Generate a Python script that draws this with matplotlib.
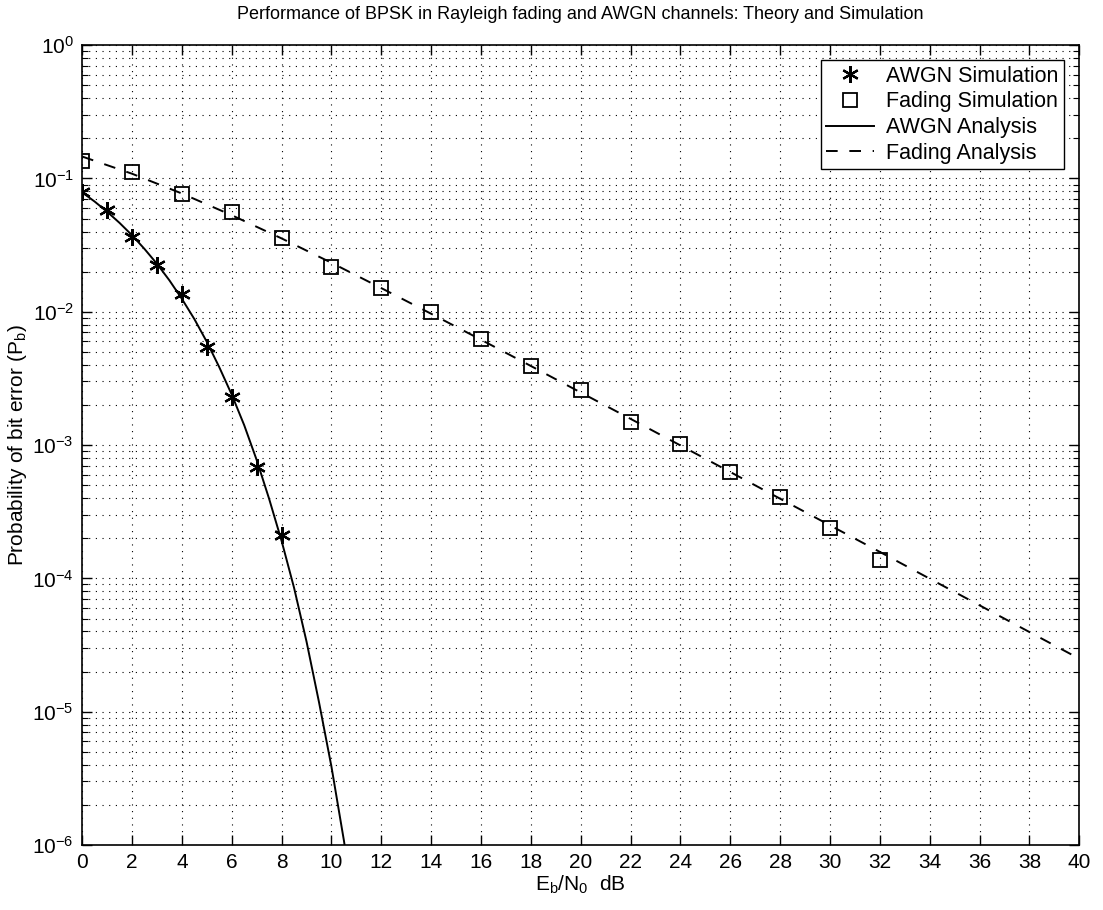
import matplotlib
matplotlib.use("Agg")
import matplotlib.pyplot as plt
from matplotlib.ticker import LogLocator, FixedLocator, NullFormatter

plt.rcParams['font.family'] = ['Liberation Sans', 'DejaVu Sans']
plt.rcParams['mathtext.fontset'] = 'custom'
plt.rcParams['mathtext.rm'] = 'Liberation Sans'

# AWGN simulation points (Eb/N0 dB, Pb)
awgn_sim_x = [0, 1, 2, 3, 4, 5, 6, 7, 8]
awgn_sim_y = [0.0785, 0.058, 0.0366, 0.0226, 0.0135, 0.0054, 0.0023, 0.00069, 0.00021]

# Fading simulation points
fade_sim_x = [0, 2, 4, 6, 8, 10, 12, 14, 16, 18, 20, 22, 24, 26, 28, 30, 32]
fade_sim_y = [0.136, 0.111, 0.077, 0.056, 0.036, 0.0215, 0.0152, 0.0099, 0.0062,
              0.0039, 0.0026, 0.0015, 0.00102, 0.00063, 0.00041, 0.00024, 0.000137]

# AWGN analysis curve
awgn_th_x = [0, 0.5, 1, 1.5, 2, 2.5, 3, 3.5, 4, 4.5, 5, 5.5, 6, 6.5, 7, 7.5,
             8, 8.5, 9, 9.5, 10, 10.5, 11]
awgn_th_y = [0.0786, 0.0671, 0.0563, 0.0464, 0.0375, 0.0296, 0.0229, 0.0172,
             0.0125, 0.00882, 0.00595, 0.00384, 0.00239, 0.00141, 0.000773,
             0.000395, 0.000191, 8.5e-5, 3.36e-5, 1.18e-5, 3.87e-6, 1.08e-6, 2.6e-7]

# Fading analysis curve (dashed line)
fade_th_x = [0, 2, 4, 6, 8, 10, 12, 14, 16, 18, 20, 22, 24, 26, 28, 30, 32,
             34, 36, 38, 40]
fade_th_y = [0.146, 0.1085, 0.0771, 0.053, 0.0355, 0.0233, 0.01505, 0.00966,
             0.00617, 0.00392, 0.00248, 0.001573, 0.000994, 0.000628, 0.000396,
             0.00025, 0.000158, 9.95e-5, 6.28e-5, 3.96e-5, 2.5e-5]

xticks = list(range(0, 41, 2))

fig = plt.figure(figsize=(11.03, 9.1), dpi=100)
ax = fig.add_axes([0.0745, 0.0714, 0.904, 0.879])

ax.plot(awgn_sim_x, awgn_sim_y, linestyle='none', marker=(6, 2, 0), markersize=12,
        markeredgewidth=1.6, color='black', label='AWGN Simulation')
ax.plot(fade_sim_x, fade_sim_y, linestyle='none', marker='s', markersize=10,
        markerfacecolor='none', markeredgewidth=1.3, color='black',
        label='Fading Simulation')
ax.plot(awgn_th_x, awgn_th_y, '-', color='black', linewidth=1.4, label='AWGN Analysis')
ax.plot(fade_th_x, fade_th_y, color='black', linewidth=1.4, linestyle=(0, (6, 6)),
        label='Fading Analysis')

ax.set_yscale('log')
ax.set_xlim(0, 40)
ax.set_ylim(1e-6, 1)
ax.xaxis.set_major_locator(FixedLocator(xticks))
ax.yaxis.set_major_locator(LogLocator(base=10, numticks=10))
ax.yaxis.set_minor_locator(LogLocator(base=10, subs=range(2, 10), numticks=100))
ax.yaxis.set_minor_formatter(NullFormatter())

ax.grid(True, which='major', axis='both', color='black', linewidth=0.8,
        linestyle=(0, (1, 5)))
ax.grid(True, which='minor', axis='y', color='black', linewidth=0.8,
        linestyle=(0, (1, 5)))

ax.tick_params(which='both', direction='in', top=True, right=True, labelsize=15)
ax.tick_params(which='major', length=7, width=1, pad=6)
ax.tick_params(which='minor', length=4, width=0.8)
for s in ax.spines.values():
    s.set_linewidth(1.2)

ax.set_title('Performance of BPSK in Rayleigh fading and AWGN channels: Theory and Simulation',
             fontsize=13, pad=19)
ax.set_xlabel(r'E$_\mathregular{b}$/N$_\mathregular{0}$  dB', fontsize=15, labelpad=1)
ax.set_ylabel(r'Probability of bit error (P$_\mathregular{b}$)', fontsize=15, labelpad=2)

leg = ax.legend(loc='upper right', fontsize=15.5, frameon=True, fancybox=False,
                edgecolor='black', framealpha=1, borderpad=0.25, labelspacing=0.22,
                handlelength=2.2, handletextpad=0.6, borderaxespad=0.7)
leg.get_frame().set_linewidth(1.0)

fig.savefig('out.png', dpi=100)
